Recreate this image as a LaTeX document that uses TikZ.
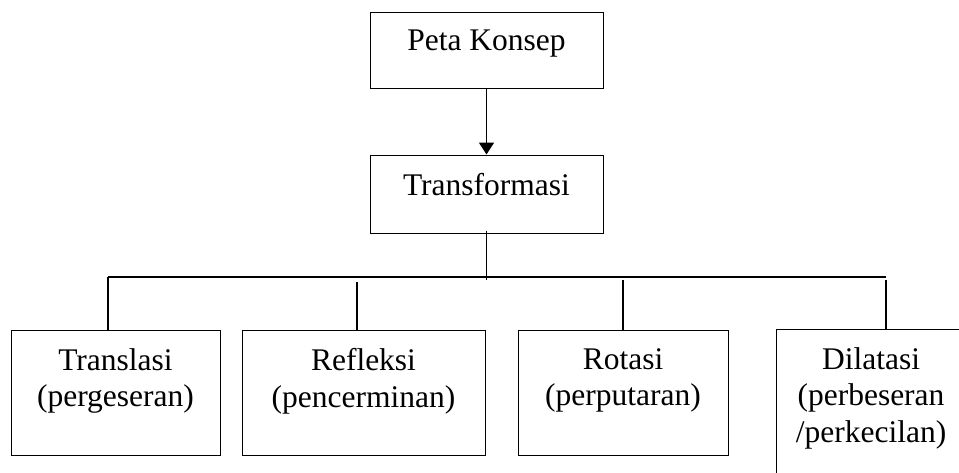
\documentclass[tikz,border=0pt]{standalone}
\usepackage{fontspec}
\setmainfont{Liberation Serif}
\usetikzlibrary{arrows.meta}

\begin{document}
\begin{tikzpicture}[x=1pt,y=-1pt]
\tikzstyle{kotak}=[draw,rectangle,line width=1pt,inner sep=0pt]
\tikzstyle{teks}=[align=center,inner sep=0pt,anchor=north,font=\fontsize{31.5}{36.8}\selectfont]
\tikzstyle{garis}=[line width=1.8pt]

\useasboundingbox (0,0) rectangle (959,472);
\clip (0,0) rectangle (959,472);

\node[kotak,minimum width=233pt,minimum height=76pt] (peta) at (486.5,50) {};
\node[kotak,minimum width=233pt,minimum height=78pt] (trans) at (486.5,194) {};
\node[kotak,minimum width=209pt,minimum height=125pt] (transl) at (115.5,392.5) {};
\node[kotak,minimum width=243pt,minimum height=125pt] (refl) at (363.5,392.5) {};
\node[kotak,minimum width=210pt,minimum height=125pt] (rot) at (623,392.5) {};
\node[kotak,minimum width=190pt,minimum height=151pt] (dil) at (871,404.5) {};

\node[teks] (tpeta) at ([yshift=-18.5pt]peta.north) {Peta Konsep};
\node[teks] (ttrans) at ([yshift=-18.5pt]trans.north) {Transformasi};
\node[teks] (ttransl) at ([yshift=-18.5pt]transl.north) {Translasi\\(pergeseran)};
\node[teks] (trefl) at ([yshift=-18.5pt]refl.north) {Refleksi\\(pencerminan)};
\node[teks] (trot) at ([yshift=-18.5pt]rot.north) {Rotasi\\(perputaran)};
\node[teks] (tdil) at ([yshift=-18.5pt]dil.north) {Dilatasi\\(perbeseran\\/perkecilan)};

\coordinate (pusat) at (486.5,280);
\coordinate (kiri) at (108,277);
\coordinate (kanan) at (886,277);
\coordinate (c1) at (108,277);
\coordinate (c2) at (357,282);
\coordinate (c3) at (623,280);
\coordinate (c4) at (886,280);

\draw[garis,-{Triangle[width=15pt,length=12pt]}] (peta.south) -- (trans.north);
\draw[garis] ([yshift=3pt]trans.south) -- (pusat);
\draw[garis] (kiri) -- (kanan);
\draw[garis] (c1) -- (c1 |- transl.north);
\draw[garis] (c2) -- (c2 |- refl.north);
\draw[garis] (c3) -- (c3 |- rot.north);
\draw[garis] (c4) -- (c4 |- dil.north);
\end{tikzpicture}
\end{document}
